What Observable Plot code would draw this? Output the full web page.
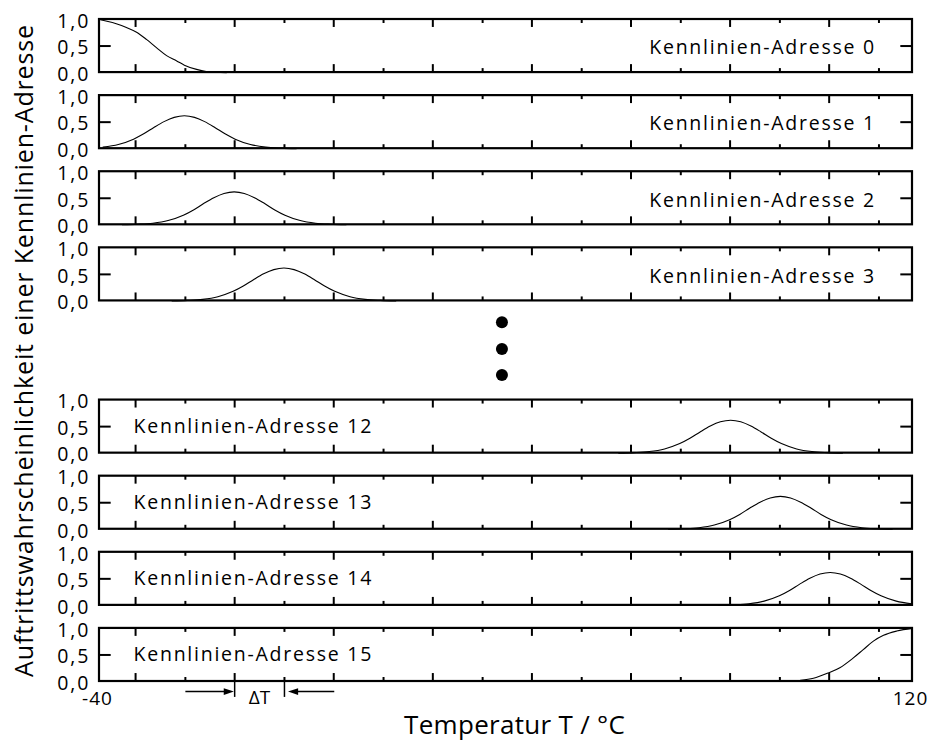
<!DOCTYPE html>
<html>
<head>
<meta charset="utf-8">
<script src="https://cdn.jsdelivr.net/npm/d3@7"></script>
<script src="https://cdn.jsdelivr.net/npm/@observablehq/plot@0.6"></script>
<style>
  html, body { margin: 0; padding: 0; background: #fff; }
</style>
</head>
<body>
<div id="chart"></div>
<script>
// ---- data ----
const addresses = [0, 1, 2, 3, 12, 13, 14, 15];
const facetOrder = ["0", "1", "2", "3", "dots", "12", "13", "14", "15"];
const xTicks = [-32.9, -23.1, -13.4, -3.6, 6.1, 15.9, 25.6, 35.4, 45.1, 54.9, 64.6, 74.4, 84.1, 93.9, 103.6, 113.4];
const yTickValues = [0, 0.5, 1];
const yTickLabels = ["0,0", "0,5", "1,0"];
const xEndValues = [-40, 120];
const xEndLabels = ["-40", "120"];

// address 0 (falling edge at the left)
const addr0T = [-40, -39.6, -36.7, -34.7, -32.7, -30.7, -28.8, -26.8, -24.8, -23.3, -20.9, -19.0, -17.0, -15.0];
const addr0V = [1.0, 0.99, 0.92, 0.85, 0.76, 0.62, 0.47, 0.32, 0.22, 0.14, 0.06, 0.02, 0.005, 0.0];
// address 15 (rising edge at the right)
const addr15T = [94.0, 95.8, 97.8, 100.5, 103.4, 105.7, 108.3, 110.3, 112.3, 114.3, 116.9, 120];
const addr15V = [0.0, 0.005, 0.02, 0.06, 0.16, 0.26, 0.44, 0.60, 0.76, 0.87, 0.95, 1.0];
// bell-shaped curves of the other addresses: peak positions and shape
const peakAddresses = [1, 2, 3, 12, 13, 14];
const peakCenters = [-23.3, -13.5, -3.7, 84.2, 94.0, 103.8];
const profileOffset = [-22, -19, -16, -13, -10, -8, -6, -4, -2, 0, 2, 4, 6, 8, 10, 13, 16, 19, 22];
const profileValue  = [0.00, 0.01, 0.03, 0.08, 0.18, 0.28, 0.40, 0.51, 0.59, 0.62, 0.59, 0.51, 0.40, 0.28, 0.18, 0.08, 0.03, 0.01, 0.00];

const labelLeftSide = [12, 13, 14, 15];
const dotValues = [1.03, 0.53, 0.04];

// ---- build tables ----
const curves = [];
addr0T.forEach((t, i) => curves.push({fy: "0", t, v: addr0V[i]}));
peakAddresses.forEach((a, k) => {
  profileOffset.forEach((o, i) => {
    const t = peakCenters[k] + o;
    if (t >= -40 && t <= 120) curves.push({fy: String(a), t, v: profileValue[i]});
  });
});
addr15T.forEach((t, i) => curves.push({fy: "15", t, v: addr15V[i]}));

const panels = addresses.map(a => ({fy: String(a)}));
const tickData = [];
addresses.forEach(a => xTicks.forEach((x, i) => tickData.push({fy: String(a), x, long: i % 2 === 0})));
const yLabelData = [];
addresses.forEach(a => yTickValues.forEach((v, i) => yLabelData.push({fy: String(a), v, label: yTickLabels[i]})));
const nameData = addresses.map(a => ({fy: String(a), a, label: "Kennlinien-Adresse " + a, left: labelLeftSide.includes(a)}));

// ΔT annotation: arrows pointing at ticks 2 and 3 from outside
const deltaArrows = [
  {fy: "15", x1: xTicks[1], x2: xTicks[2] - 0.15, dir: "right"},
  {fy: "15", x1: xTicks[3] + 9.8, x2: xTicks[3] + 0.7, dir: "left"}
];

const FONT = "'Open Sans', 'DejaVu Sans', sans-serif";
const LONG = 0.15, SHORT = 0.075;

// filled arrowhead symbols (tip at the anchor point)
const headRight = {draw(ctx, size) { const r = Math.sqrt(size / Math.PI); ctx.moveTo(0, 0); ctx.lineTo(-2.2 * r, -0.75 * r); ctx.lineTo(-2.2 * r, 0.75 * r); ctx.closePath(); }};
const headLeft  = {draw(ctx, size) { const r = Math.sqrt(size / Math.PI); ctx.moveTo(0, 0); ctx.lineTo(2.2 * r, -0.75 * r); ctx.lineTo(2.2 * r, 0.75 * r); ctx.closePath(); }};

const chart = Plot.plot({
  width: 929,
  height: 740,
  marginLeft: 99,
  marginRight: 17,
  marginTop: 19,
  marginBottom: 59,
  x: {domain: [-40, 120], axis: null},
  y: {domain: [0, 1], axis: null},
  fy: {domain: facetOrder, axis: null, paddingInner: 23 / 76, paddingOuter: 0, round: false},
  style: {fontFamily: FONT, background: "white", color: "black", overflow: "visible"},
  marks: [
    // curves
    Plot.line(curves, {x: "t", y: "v", z: "fy", fy: "fy", curve: "monotone-x", stroke: "black", strokeWidth: 1.1}),
    // panel frames
    Plot.rect(panels, {x1: -40, x2: 120, y1: 0, y2: 1, fy: "fy", fill: "none", stroke: "black", strokeWidth: 2.2}),
    // inward x ticks bottom & top
    Plot.ruleX(tickData, {x: "x", y1: 0, y2: d => d.long ? LONG : SHORT, fy: "fy", stroke: "black", strokeWidth: 2}),
    Plot.ruleX(tickData, {x: "x", y1: 1, y2: d => 1 - (d.long ? LONG : SHORT), fy: "fy", stroke: "black", strokeWidth: 2}),
    // inward y ticks at 0.5
    Plot.ruleY(panels, {y: 0.5, x1: -40, x2: -37.7, fy: "fy", stroke: "black", strokeWidth: 2}),
    Plot.ruleY(panels, {y: 0.5, x1: 117.7, x2: 120, fy: "fy", stroke: "black", strokeWidth: 2}),
    // y tick labels
    Plot.text(yLabelData, {x: -40, y: "v", text: "label", fy: "fy", textAnchor: "end", dx: -9, dy: 2, fontSize: 19.5}),
    // address labels
    Plot.text(nameData.filter(d => !d.left), {x: 112.8, y: 0.5, text: "label", fy: "fy", textAnchor: "end", dy: 2, fontSize: 19.5}),
    Plot.text(nameData.filter(d => d.left), {x: -33.3, y: 0.5, text: "label", fy: "fy", textAnchor: "start", dy: 0, fontSize: 19.5}),
    // ellipsis dots
    Plot.dot(dotValues.map(v => ({fy: "dots", v})), {x: 39.2, y: "v", r: 6, fill: "black", stroke: "none", fy: "fy"}),
    // x end labels
    Plot.text(xEndValues.map((x, i) => ({fy: "15", x, label: xEndLabels[i]})), {x: "x", y: 0, text: "label", fy: "fy", dy: 17, dx: -2, fontSize: 19}),
    // ΔT annotation
    Plot.ruleX([{fy: "15", x: xTicks[2]}, {fy: "15", x: xTicks[3]}], {x: "x", y1: 0, y2: -0.3, fy: "fy", stroke: "black", strokeWidth: 1.5}),
    Plot.link(deltaArrows, {x1: "x1", x2: d => d.dir === "right" ? d.x2 - 1 : d.x2 + 1, y1: -0.19, y2: -0.19, fy: "fy", stroke: "black", strokeWidth: 1.5}),
    Plot.dot(deltaArrows.filter(d => d.dir === "right"), {x: "x2", y: -0.19, fy: "fy", r: 4.6, symbol: headRight, fill: "black", stroke: "none"}),
    Plot.dot(deltaArrows.filter(d => d.dir === "left"), {x: "x2", y: -0.19, fy: "fy", r: 4.6, symbol: headLeft, fill: "black", stroke: "none"}),
    Plot.text([{fy: "15", x: (xTicks[2] + xTicks[3]) / 2, label: "\u0394T"}], {x: "x", y: 0, text: "label", fy: "fy", dy: 16, fontSize: 19}),
    // axis titles
    Plot.text([{fy: "15", x: 41.7, label: "Temperatur T / °C"}], {x: "x", y: 0, text: "label", fy: "fy", dy: 44, fontSize: 26}),
    Plot.text([{fy: "dots", label: "Auftrittswahrscheinlichkeit einer Kennlinien-Adresse"}], {x: -40, y: 0.5, text: "label", fy: "fy", dx: -75, rotate: -90, fontSize: 25})
  ]
});

// letter spacing of the texts (the reference font is set rather wide)
d3.select(chart).selectAll("text").each(function () {
  const t = this.textContent;
  let ls = null;
  if (t.startsWith("Kennlinien")) ls = 1.75;
  else if (/^\d,\d$/.test(t)) ls = 2;
  else if (t === "-40" || t === "120") ls = 1;
  else if (t.startsWith("Temperatur")) ls = 0.3;
  else if (t.startsWith("Auftritts")) ls = 0.85;
  if (ls !== null) this.setAttribute("letter-spacing", ls);
});
document.getElementById("chart").appendChild(chart);
</script>
</body>
</html>
